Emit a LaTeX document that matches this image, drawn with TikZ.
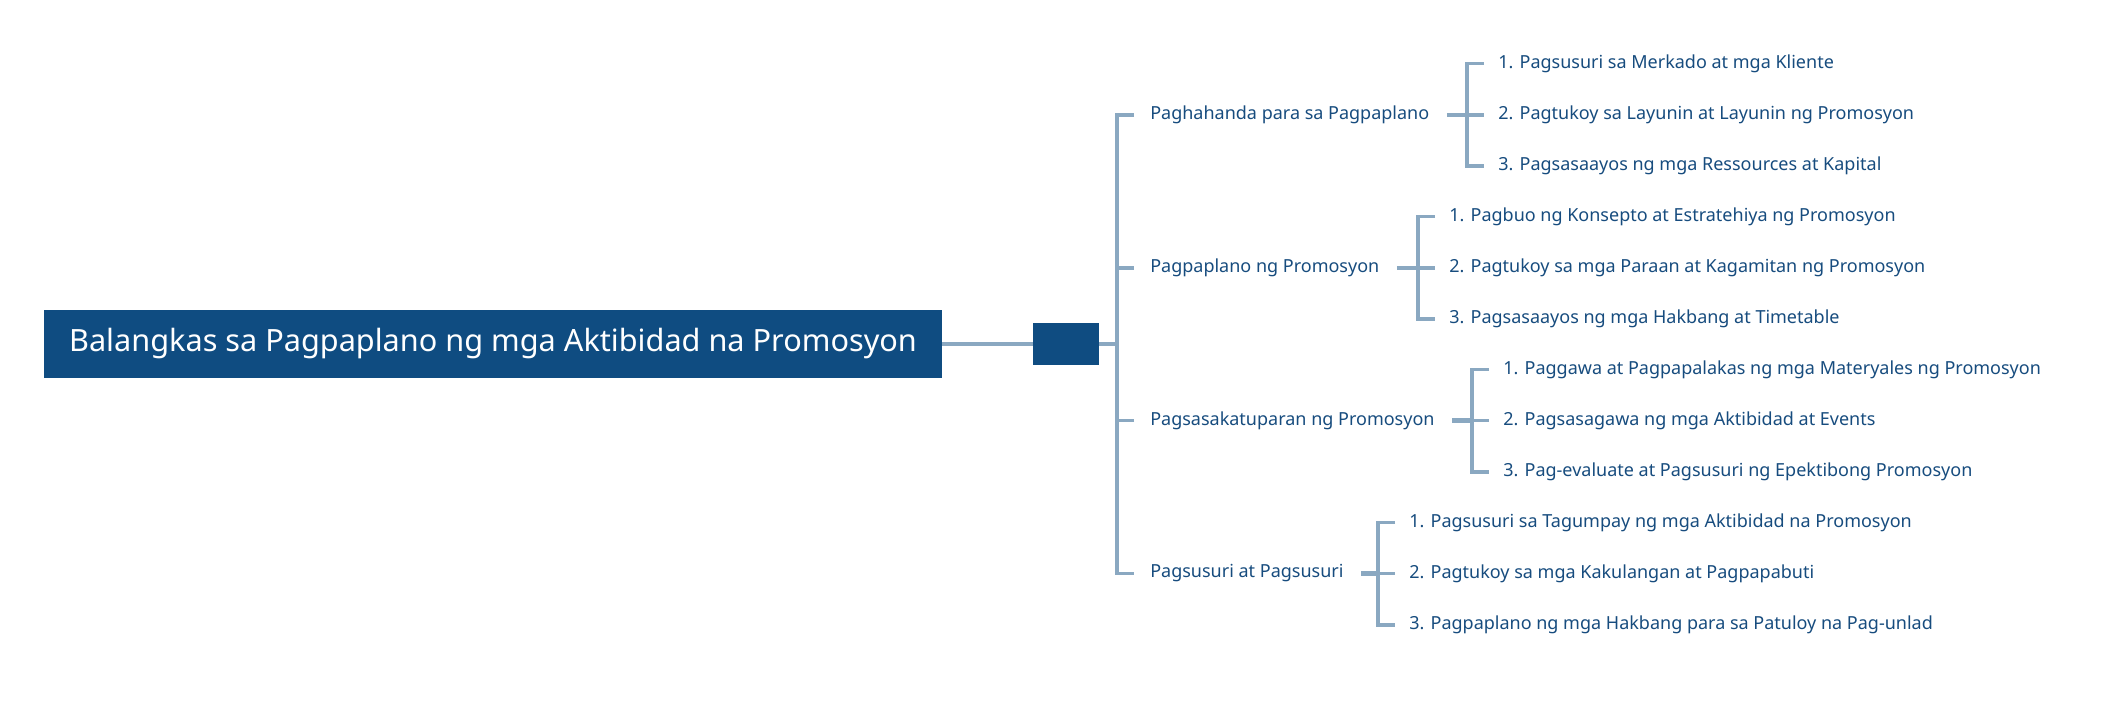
\documentclass[tikz,border=0pt]{standalone}
\usepackage{fontspec}
\setmainfont{Noto Sans}

\definecolor{deepblue}{HTML}{0F4C81}
\definecolor{linkgray}{HTML}{8AA8C1}
\definecolor{leafblue}{HTML}{174C7E}

\tikzset{
    rootbox/.style={fill=deepblue, text=white, font=\fontsize{23}{28}\selectfont,
        minimum width=673.5pt, minimum height=51pt, inner sep=0},
    hubbox/.style={fill=deepblue, minimum width=49.5pt, minimum height=31.5pt, inner sep=0},
    topic/.style={anchor=west, inner sep=0, text=leafblue, font=\fontsize{13.5}{16}\selectfont},
    link/.style={draw=linkgray, line width=2.5pt},
    stub/.style={draw=linkgray, line width=3.4pt},
}

\begin{document}
\begin{tikzpicture}[x=0.75pt, y=-0.75pt]
            \useasboundingbox (0, 0) rectangle (2110, 702);
            \node[rootbox](root) at (493, 344) {Balangkas sa Pagpaplano ng mga Aktibidad na Promosyon};
            \node[hubbox](hub) at (1066, 344) {};
            % main topics
            \node[topic](b1) at (1150, 115) {Paghahanda para sa Pagpaplano};
            \node[topic](b2) at (1150, 268) {Pagpaplano ng Promosyon};
            \node[topic](b3) at (1150, 420.5) {Pagsasakatuparan ng Promosyon};
            \node[topic](b4) at (1150, 573.5) {Pagsusuri at Pagsusuri};
            % sub topics
            \node[topic](c11) at (1498, 63.5) {1. Pagsusuri sa Merkado at mga Kliente};
            \node[topic](c12) at (1498, 115) {2. Pagtukoy sa Layunin at Layunin ng Promosyon};
            \node[topic](c13) at (1498, 166) {3. Pagsasaayos ng mga Ressources at Kapital};
            \node[topic](c21) at (1449, 216.5) {1. Pagbuo ng Konsepto at Estratehiya ng Promosyon};
            \node[topic](c22) at (1449, 268) {2. Pagtukoy sa mga Paraan at Kagamitan ng Promosyon};
            \node[topic](c23) at (1449, 319) {3. Pagsasaayos ng mga Hakbang at Timetable};
            \node[topic](c31) at (1503, 369.5) {1. Paggawa at Pagpapalakas ng mga Materyales ng Promosyon};
            \node[topic](c32) at (1503, 420.5) {2. Pagsasagawa ng mga Aktibidad at Events};
            \node[topic](c33) at (1503, 472) {3. Pag-evaluate at Pagsusuri ng Epektibong Promosyon};
            \node[topic](c41) at (1409, 522.5) {1. Pagsusuri sa Tagumpay ng mga Aktibidad na Promosyon};
            \node[topic](c42) at (1409, 573.5) {2. Pagtukoy sa mga Kakulangan at Pagpapabuti};
            \node[topic](c43) at (1409, 625) {3. Pagpaplano ng mga Hakbang para sa Patuloy na Pag-unlad};
            % spine
            \coordinate(spine) at ([xshift=-24.75pt]b1.west);
            \draw[link](root.east)--(hub.west);
            \draw[link](hub.east)--(spine |- hub.east);
            \draw[link]([xshift=-12pt]b1.west)-|([xshift=-24.75pt]b4.west)--([xshift=-12pt]b4.west);
            \draw[link]([xshift=-12pt]b2.west)--([xshift=-24.75pt]b2.west);
            \draw[link]([xshift=-12pt]b3.west)--([xshift=-24.75pt]b3.west);
            % brackets
            \foreach \b in {1, 2, 3, 4}{
                \draw[stub]([xshift=13pt]b\b.east)--([xshift=-23.25pt]c\b2.west);
                \draw[link]([xshift=-10.5pt]c\b1.west)-|([xshift=-23.25pt]c\b3.west)--([xshift=-10.5pt]c\b3.west);
                \draw[link]([xshift=-23.25pt]c\b2.west)--([xshift=-10.5pt]c\b2.west);
            }
        \end{tikzpicture}
\end{document}
